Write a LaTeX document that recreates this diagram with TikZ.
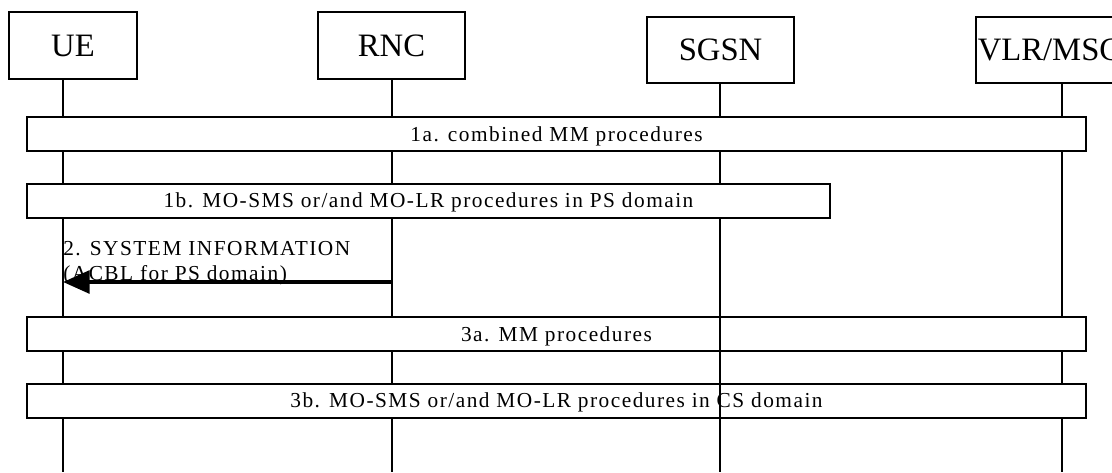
\documentclass[tikz,border=0pt]{standalone}
\usepackage{fontspec}
\setmainfont{Liberation Serif}
\newfontfamily\msgfont[LetterSpace=7]{Liberation Serif}
\usetikzlibrary{arrows.meta,positioning}
\begin{document}
\begin{tikzpicture}[x=0.75pt, y=-0.75pt, >={Triangle[length=20pt,width=17pt]}]

    \tikzset{%
    every entity/.style={
        rectangle,
        draw,
        line width=1.6pt,
        inner sep=0pt,
        font=\fontsize{24.5}{28}\selectfont
        },
    lifeline/.style={
        line width=1.5pt
        },
    procedure/.style={
        rectangle,
        draw,
        fill=white,
        line width=1.5pt,
        inner sep=0pt,
        text depth=0pt,
        minimum height=25.5pt,
        font=\msgfont\fontsize{16}{18}\selectfont
        },
    msg label/.style={
        anchor=base west,
        inner sep=0pt,
        font=\msgfont\fontsize{16}{18}\selectfont
        },
    }

    \clip (0,0) rectangle (1112,472);

    % Entity boxes along the top
    \foreach \m/\l/\x/\y/\w/\h in {ue/UE/73/45.5/96/50.25,rnc/RNC/391.5/45.5/110.25/50.25,sgsn/SGSN/720.5/50/110.25/49.5,vlr/{VLR/MSC}/1049.5/50/110.25/49.5}
    \node [every entity/.try, minimum width=\w pt, minimum height=\h pt] (\m) at (\x,\y) {\l};

    % Lifelines below each entity
    \foreach \m/\x in {ue/63,rnc/392,sgsn/720,vlr/1062}
    \coordinate (\m-end) at (\x,472);
    \foreach \m in {ue,rnc,sgsn,vlr}
    \draw [lifeline] (\m.south -| \m-end) -- (\m-end);

    % Procedure boxes
    \node [procedure, minimum width=794.25pt] (p1a) at (556.5,134) {1a. combined MM procedures};
    \node [procedure, minimum width=602.25pt] (p1b) at (428.5,200.5) {1b. MO-SMS or/and MO-LR procedures in PS domain};
    \node [procedure, minimum width=794.25pt] (p3a) at (556.5,334) {3a. MM procedures};
    \node [procedure, minimum width=794.25pt] (p3b) at (556.5,400.5) {3b. MO-SMS or/and MO-LR procedures in CS domain};

    % SGSN lifeline shows through the lower boxes
    \draw [lifeline] (p3a.north -| sgsn-end) -- (p3b.south -| sgsn-end);

    % System information message and its label
    \node [msg label] (si-1) at (63,255) {2. SYSTEM INFORMATION};
    \node [msg label] (si-2) at (63,280) {(ACBL for PS domain)};
    \coordinate (si) at (0,282);
    \draw [->, line width=3pt] (si -| rnc-end) -- (si -| ue-end);

\end{tikzpicture}
\end{document}
